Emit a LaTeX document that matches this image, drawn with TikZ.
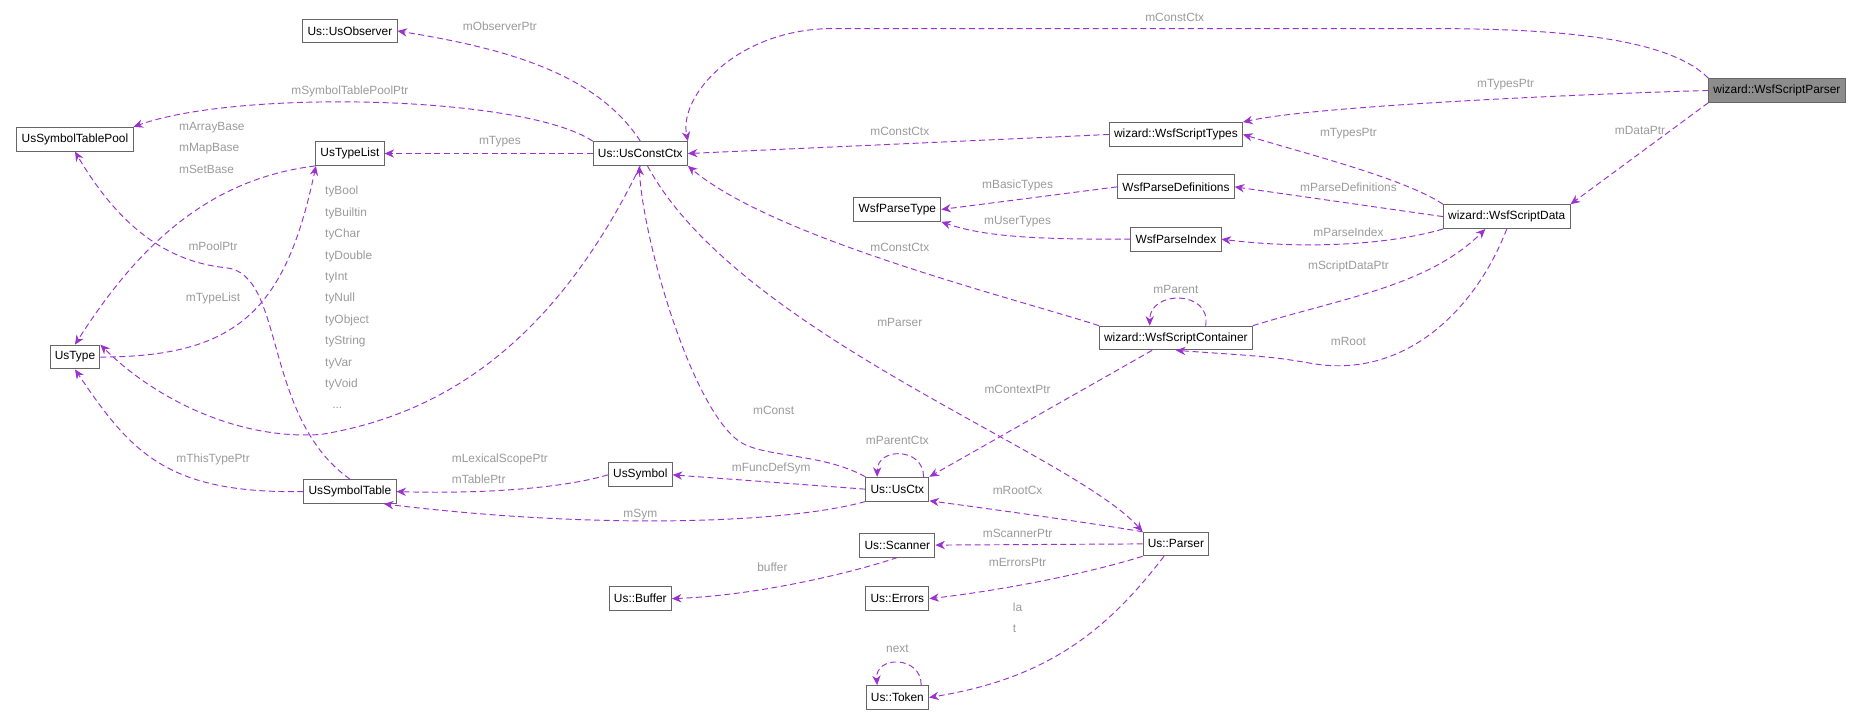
\documentclass[tikz,border=0pt]{standalone}
\usepackage{fontspec}
\setmainfont{Liberation Sans}
\usetikzlibrary{arrows.meta}
\definecolor{edgecol}{HTML}{9A32CD}
\definecolor{lblcol}{HTML}{9A9A9A}
\tikzset{
  cls/.style={draw=black!60, line width=0.8pt, fill=white, minimum height=20pt, inner xsep=4pt, inner ysep=0pt, font=\fontsize{10}{12}\selectfont},
  cur/.style={cls, fill=black!45},
  rel/.style={draw=edgecol, line width=0.8pt, dash pattern=on 5pt off 3pt, -{Stealth[length=8pt,width=7pt]}},
  lbl/.style={text=lblcol, font=\fontsize{10}{12}\selectfont, inner sep=0pt}
}
\begin{document}
\begin{tikzpicture}[x=1pt, y=-1pt]
  \useasboundingbox (0,0) rectangle (1567,601);

  % Classes
  \node[cls] (observer) at (294,26)  {Us::UsObserver};
  \node[cls] (pool)     at (63,117)  {UsSymbolTablePool};
  \node[cls] (typelist) at (294,129) {UsTypeList};
  \node[cls] (constctx) at (538,129) {Us::UsConstCtx};
  \node[cls] (ustype)   at (63,300)  {UsType};
  \node[cls] (symtab)   at (294,413) {UsSymbolTable};
  \node[cls] (symbol)   at (538,399) {UsSymbol};
  \node[cls] (ctx)      at (754,411) {Us::UsCtx};
  \node[cls] (scanner)  at (754,458) {Us::Scanner};
  \node[cls] (buffer)   at (538,503) {Us::Buffer};
  \node[cls] (errors)   at (754,503) {Us::Errors};
  \node[cls] (token)    at (754,586) {Us::Token};
  \node[cls] (ptype)    at (754,176) {WsfParseType};
  \node[cur] (parser)   at (1493,76) {wizard::WsfScriptParser};
  \node[cls] (types)    at (988,113) {wizard::WsfScriptTypes};
  \node[cls] (pdefs)    at (988,157) {WsfParseDefinitions};
  \node[cls] (pindex)   at (988,201) {WsfParseIndex};
  \node[cls] (sdata)    at (1266,182) {wizard::WsfScriptData};
  \node[cls] (cont)     at (988,284) {wizard::WsfScriptContainer};
  \node[cls] (usparser) at (988,457) {Us::Parser};

  % Relations
  \draw[rel] (constctx.north) .. controls (500,60) and (420,40) .. (observer.east);
  \draw[rel] (constctx.north west) .. controls (440,80) and (200,75) .. (pool.north east);
  \draw[rel] (constctx.west) -- (typelist.east);
  \draw[rel] (constctx.south) .. controls (460,300) and (360,350) .. (270,365) .. controls (200,370) and (130,335) .. (ustype.north east);
  \draw[rel] (typelist.south west) .. controls (180,150) and (120,200) .. (ustype.north);
  \draw[rel] (ustype.east) .. controls (200,300) and (240,260) .. (typelist.200);
  \draw[rel] (symtab.north) .. controls (220,350) and (240,230) .. (190,225) .. controls (140,220) and (100,190) .. (pool.south);
  \draw[rel] (symtab.west) .. controls (140,415) and (110,380) .. (ustype.south);
  \draw[rel] (symbol.west) .. controls (470,411) and (400,415) .. (symtab.east);
  \draw[rel] (ctx.west) -- (symbol.east);
  \draw[rel] (ctx.south west) .. controls (660,440) and (500,445) .. (symtab.-20);
  \draw[rel] (ctx.north west) .. controls (690,380) and (640,385) .. (620,370) .. controls (580,340) and (540,200) .. (constctx.-95);
  \draw[rel] ([xshift=22pt]ctx.north) .. controls +(0,-25) and +(0,-25) .. ([xshift=-17pt]ctx.north);
  \draw[rel] (parser.north west) .. controls (1400,30) and (1300,24) .. (1200,24) -- (700,24) .. controls (620,24) and (570,80) .. (constctx.north east);
  \draw[rel] (parser.west) .. controls (1300,80) and (1100,90) .. (types.north east);
  \draw[rel] (parser.south west) -- (sdata.north east);
  \draw[rel] (types.west) -- (constctx.east);
  \draw[rel] (sdata.north west) .. controls (1180,150) and (1100,130) .. (types.east);
  \draw[rel] (pdefs.west) -- (ptype.east);
  \draw[rel] (pindex.west) .. controls (880,201) and (830,200) .. (ptype.south east);
  \draw[rel] (sdata.west) -- (pdefs.east);
  \draw[rel] (sdata.south west) .. controls (1170,205) and (1100,210) .. (pindex.east);
  \draw[rel] (cont.north west) .. controls (850,250) and (650,200) .. (constctx.south east);
  \draw[rel] (cont.north east) .. controls (1130,250) and (1200,240) .. (sdata.-150);
  \draw[rel] ([xshift=25pt]cont.north) .. controls +(5,-30) and +(0,-30) .. ([xshift=-22pt]cont.north);
  \draw[rel] (sdata.south) .. controls (1240,260) and (1180,320) .. (1100,305) .. controls (1070,300) .. (cont.south);
  \draw[rel] ([xshift=-20pt]cont.south) -- (ctx.north east);
  \draw[rel] (constctx.-60) .. controls (620,280) and (900,380) .. (usparser.north west);
  \draw[rel] (usparser.160) .. controls (920,440) and (850,430) .. (ctx.-20);
  \draw[rel] (usparser.west) -- (scanner.east);
  \draw[rel] (usparser.south west) .. controls (920,480) and (850,495) .. (errors.east);
  \draw[rel] ([xshift=-10pt]usparser.south) .. controls (930,530) and (880,570) .. (token.east);
  \draw[rel] (scanner.south) .. controls (720,480) and (640,500) .. (buffer.east);
  \draw[rel] ([xshift=20pt]token.north) .. controls +(0,-25) and +(-2,-25) .. ([xshift=-17pt]token.north);

  % Labels
  \node[lbl] (l1) at (420,22)   {mObserverPtr};
  \node[lbl] (l2) at (294,77)   {mSymbolTablePoolPtr};
  \node[lbl] (l3) at (420,119)  {mTypes};
  \node[lbl, align=left] (l4) at (178,124) {mArrayBase\\[6pt]mMapBase\\[6pt]mSetBase};
  \node[lbl, align=left] (l5) at (293,250) {tyBool\\[6pt]tyBuiltin\\[6pt]tyChar\\[6pt]tyDouble\\[6pt]tyInt\\[6pt]tyNull\\[6pt]tyObject\\[6pt]tyString\\[6pt]tyVar\\[6pt]tyVoid\\[6pt]\hspace*{6pt}...};
  \node[lbl] (l6) at (179,251)  {mTypeList};
  \node[lbl] (l7) at (179,207)  {mPoolPtr};
  \node[lbl] (l8) at (179,386)  {mThisTypePtr};
  \node[lbl, align=left] (l9) at (420,394) {mLexicalScopePtr\\[6pt]mTablePtr};
  \node[lbl] (l10) at (648,394) {mFuncDefSym};
  \node[lbl] (l11) at (538,432) {mSym};
  \node[lbl] (l12) at (650,345) {mConst};
  \node[lbl] (l13) at (754,370) {mParentCtx};
  \node[lbl] (l14) at (987,15)  {mConstCtx};
  \node[lbl] (l15) at (1265,71) {mTypesPtr};
  \node[lbl] (l16) at (1378,110) {mDataPtr};
  \node[lbl] (l17) at (756,110) {mConstCtx};
  \node[lbl] (l18) at (1133,112) {mTypesPtr};
  \node[lbl] (l19) at (855,156) {mBasicTypes};
  \node[lbl] (l20) at (855,186) {mUserTypes};
  \node[lbl] (l21) at (1133,157) {mParseDefinitions};
  \node[lbl] (l22) at (1133,195) {mParseIndex};
  \node[lbl] (l23) at (756,208) {mConstCtx};
  \node[lbl] (l24) at (1133,224) {mScriptDataPtr};
  \node[lbl] (l25) at (988,243) {mParent};
  \node[lbl] (l26) at (1133,287) {mRoot};
  \node[lbl] (l27) at (855,327) {mContextPtr};
  \node[lbl] (l28) at (756,271) {mParser};
  \node[lbl] (l29) at (855,412) {mRootCx};
  \node[lbl] (l30) at (855,448) {mScannerPtr};
  \node[lbl] (l31) at (855,473) {mErrorsPtr};
  \node[lbl, align=left] (l32) at (855,519) {la\\[6pt]t};
  \node[lbl] (l33) at (649,477) {buffer};
  \node[lbl] (l34) at (754,545) {next};
\end{tikzpicture}
\end{document}
